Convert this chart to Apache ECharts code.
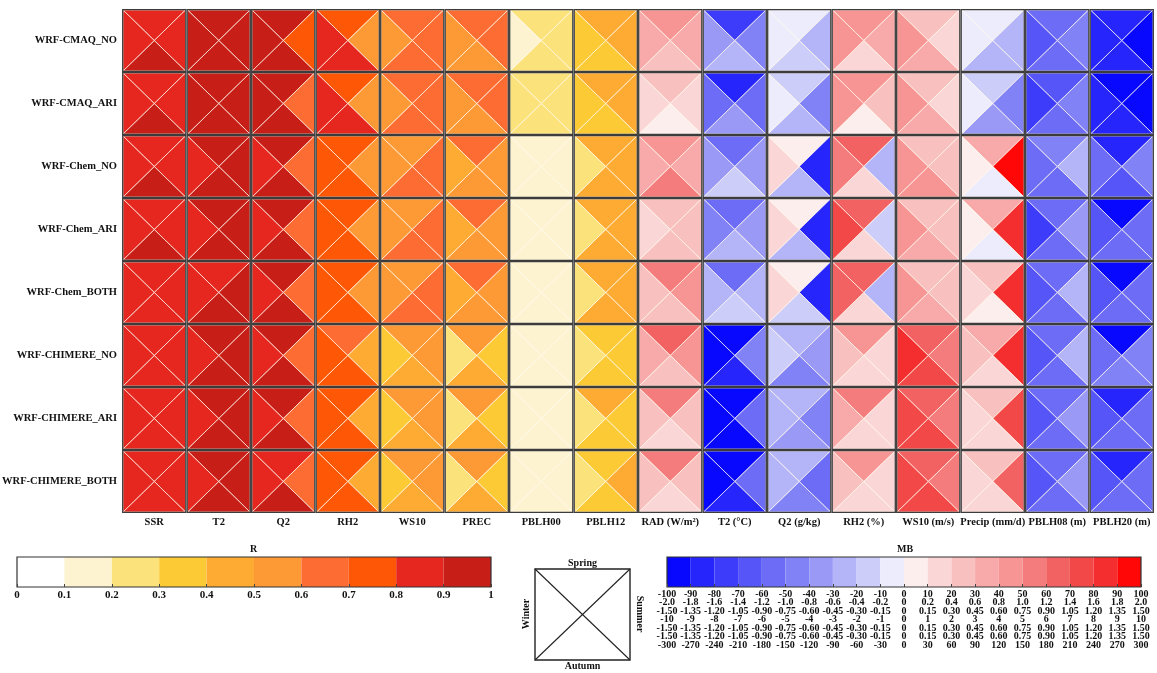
<!DOCTYPE html>
<html><head><meta charset="utf-8">
<script src="https://cdn.jsdelivr.net/npm/echarts@6/dist/echarts.min.js"></script>
<style>html,body{margin:0;padding:0;background:#fff}#c{width:1157px;height:673px}</style>
</head><body><div id="c"></div>
<script>
// ---------- categories ----------
const rowNames = ['WRF-CMAQ_NO','WRF-CMAQ_ARI','WRF-Chem_NO','WRF-Chem_ARI','WRF-Chem_BOTH','WRF-CHIMERE_NO','WRF-CHIMERE_ARI','WRF-CHIMERE_BOTH'];
const colNames = ['SSR','T2','Q2','RH2','WS10','PREC','PBLH00','PBLH12','RAD (W/m²)','T2 (°C)','Q2 (g/kg)','RH2 (%)','WS10 (m/s)','Precip (mm/d)','PBLH08 (m)','PBLH20 (m)'];
const seasons = ['Spring','Summer','Autumn','Winter']; // top, right, bottom, left

// ---------- R values: each row = [Spring, Summer, Autumn, Winter] ----------
const rSSR = [[0.87,0.86,0.91,0.88],[0.86,0.85,0.91,0.87],[0.86,0.86,0.91,0.87],[0.86,0.85,0.91,0.87],[0.88,0.87,0.89,0.86],[0.87,0.86,0.88,0.86],[0.87,0.86,0.88,0.86],[0.87,0.86,0.88,0.86]];
const rT2 = [[0.94,0.95,0.95,0.93],[0.94,0.95,0.95,0.93],[0.93,0.94,0.95,0.88],[0.93,0.94,0.95,0.88],[0.89,0.94,0.95,0.88],[0.92,0.94,0.95,0.88],[0.92,0.94,0.95,0.88],[0.92,0.94,0.95,0.88]];
const rQ2 = [[0.93,0.74,0.94,0.92],[0.93,0.66,0.94,0.92],[0.92,0.64,0.94,0.88],[0.92,0.64,0.94,0.88],[0.92,0.65,0.94,0.87],[0.92,0.65,0.94,0.87],[0.92,0.65,0.94,0.87],[0.89,0.64,0.93,0.87]];
const rRH2 = [[0.76,0.57,0.84,0.83],[0.75,0.56,0.84,0.83],[0.74,0.55,0.76,0.73],[0.74,0.55,0.76,0.73],[0.74,0.55,0.76,0.73],[0.66,0.47,0.74,0.72],[0.71,0.46,0.74,0.72],[0.71,0.46,0.74,0.72]];
const rWS10 = [[0.65,0.63,0.64,0.56],[0.66,0.63,0.64,0.56],[0.57,0.62,0.63,0.55],[0.57,0.62,0.63,0.55],[0.57,0.63,0.64,0.54],[0.54,0.52,0.46,0.36],[0.54,0.52,0.46,0.36],[0.54,0.52,0.46,0.36]];
const rPREC = [[0.65,0.63,0.56,0.57],[0.65,0.63,0.56,0.57],[0.64,0.55,0.54,0.46],[0.64,0.54,0.53,0.45],[0.63,0.54,0.53,0.45],[0.55,0.36,0.44,0.27],[0.55,0.36,0.44,0.26],[0.56,0.35,0.44,0.26]];
const rPBLH00 = [[0.24,0.22,0.23,0.16],[0.23,0.22,0.22,0.21],[0.15,0.14,0.14,0.13],[0.14,0.14,0.13,0.13],[0.14,0.13,0.14,0.13],[0.13,0.13,0.14,0.12],[0.13,0.13,0.14,0.12],[0.13,0.14,0.14,0.12]];
const rPBLH12 = [[0.44,0.43,0.38,0.36],[0.44,0.43,0.37,0.36],[0.43,0.45,0.44,0.27],[0.43,0.45,0.44,0.27],[0.43,0.44,0.43,0.26],[0.36,0.35,0.37,0.27],[0.41,0.38,0.37,0.26],[0.38,0.41,0.37,0.26]];

// ---------- MB values (in each variable's unit): [Spring, Summer, Autumn, Winter] ----------
const mbRAD = [[45,36,24,34],[24,14,4,16],[46,35,53,36],[26,25,24,15],[56,42,28,26],[64,44,25,34],[55,26,16,24],[54,25,15,26]];
const mbT2 = [[-1.52,-0.88,-0.48,-0.68],[-1.72,-1.08,-0.66,-1.12],[-1.08,-0.66,-0.28,-0.72],[-1.12,-0.68,-0.46,-0.86],[-1.06,-0.52,-0.32,-0.48],[-1.96,-0.88,-1.78,-1.94],[-1.95,-1.08,-1.92,-1.96],[-1.94,-1.12,-1.78,-1.95]];
const mbQ2 = [[-0.07,-0.37,-0.22,-0.08],[-0.24,-0.66,-0.38,-0.06],[0.06,-1.28,-0.38,0.22],[0.07,-1.27,-0.37,0.23],[0.06,-1.26,-0.24,0.21],[-0.38,-0.52,-0.62,-0.23],[-0.36,-0.68,-0.53,-0.37],[-0.37,-0.82,-0.66,-0.38]];
const mbRH2 = [[4.6,3.4,1.6,4.5],[4.4,2.6,0.5,4.6],[6.4,-2.6,1.5,5.6],[6.2,-1.4,1.6,7.4],[6.5,-2.4,1.6,6.6],[4.6,1.6,1.8,2.6],[5.2,1.6,1.7,3.4],[4.8,1.6,1.5,2.8]];
const mbWS10 = [[0.38,0.22,0.52,0.67],[0.37,0.23,0.53,0.66],[0.38,0.37,0.66,0.68],[0.38,0.36,0.54,0.67],[0.37,0.38,0.52,0.66],[0.98,0.84,1.12,1.28],[1.0,0.83,1.12,1.13],[0.99,0.84,1.1,1.14]];
const mbPrecip = [[-0.14,-0.37,-0.34,-0.06],[-0.3,-0.68,-0.52,-0.06],[0.52,1.45,-0.08,0.07],[0.53,1.3,-0.07,0.06],[0.4,1.28,0.07,0.22],[0.52,1.27,0.23,0.38],[0.37,1.12,0.22,0.22],[0.32,0.97,0.2,0.22]];
const mbPBLH08 = [[-165,-135,-165,-200],[-195,-135,-165,-220],[-140,-75,-165,-180],[-165,-105,-160,-215],[-165,-75,-160,-195],[-165,-80,-160,-190],[-165,-105,-160,-195],[-165,-100,-160,-195]];
const mbPBLH20 = [[-255,-290,-255,-255],[-290,-292,-255,-255],[-250,-135,-190,-160],[-288,-170,-175,-195],[-285,-160,-160,-195],[-275,-150,-150,-180],[-260,-160,-160,-190],[-255,-160,-160,-190]];

// full-scale of each MB variable (the value mapped to ±100 on the MB colour bar)
const mbScale = [100, 2, 1.5, 10, 1.5, 1.5, 300, 300];

// ---------- colour-bar tick labels ----------
const rTicks = [0,0.1,0.2,0.3,0.4,0.5,0.6,0.7,0.8,0.9,1];
const mbBinEdges = [-100,-90,-80,-70,-60,-50,-40,-30,-20,-10,0,10,20,30,40,50,60,70,80,90,100];
const mbLabelMax = [100, 2.0, 1.5, 10, 1.5, 1.5, 300];
const mbLabelDec = [0, 1, 2, 0, 2, 2, 0];

// ---------- styles ----------
const rColors = ['#ffffff','#fdf3d0','#fbe27a','#fcca35','#fdab33','#fd9a35','#fc6c33','#fe5806','#e5271f','#c81e18'];
const mbColors = ['#0808ff','#2626fc','#3c3cfa','#5656f8','#6c6cf6','#8282f7','#9a9af6','#b4b4f8','#cdcdfa','#ececfc',
                  '#fdeeee','#fbd6d6','#f9c0c0','#f8a9a9','#f79595','#f57c7c','#f36262','#f34848','#f42e2e','#ff0707'];
const FONT = 'Liberation Serif';

// ---------- build series data ----------
const rVars = [rSSR,rT2,rQ2,rRH2,rWS10,rPREC,rPBLH00,rPBLH12];
const mbVars = [mbRAD,mbT2,mbQ2,mbRH2,mbWS10,mbPrecip,mbPBLH08,mbPBLH20];
const rData = [], mbData = [], cellData = [];
rVars.forEach((arr, v) => arr.forEach((vals, r) => vals.forEach((val, s) => rData.push([v, r, s, val, val]))));
mbVars.forEach((arr, k) => arr.forEach((vals, r) => vals.forEach((val, s) => mbData.push([k + 8, r, s, val, val / mbScale[k] * 100]))));
for (let v = 0; v < colNames.length; v++) for (let r = 0; r < rowNames.length; r++) cellData.push([v, r]);

const rBins = rTicks.slice(0, -1).map((t, i) => [t, rTicks[i + 1]]);
const mbBins = mbBinEdges.slice(0, -1).map((t, i) => [t, mbBinEdges[i + 1]]);

const rPieces = rBins.map((b, i) => ({gte: b[0], lt: i === rBins.length - 1 ? 1.0001 : b[1], color: rColors[i]}));
const mbPieces = mbBins.map((b, i) => ({gte: b[0], lt: i === mbBins.length - 1 ? 100.0001 : b[1], color: mbColors[i]}));

function renderTri(params, api) {
  const c = api.coord([api.value(0), api.value(1)]);
  const sz = api.size([1, 1]);
  const hw = sz[0] / 2 - 1, hh = sz[1] / 2 - 1;
  const x0 = c[0] - hw, x1 = c[0] + hw, y0 = c[1] - hh, y1 = c[1] + hh;
  const s = api.value(2);
  const pts = [
    [[x0, y0], [x1, y0], c],
    [[x1, y0], [x1, y1], c],
    [[x1, y1], [x0, y1], c],
    [[x0, y1], [x0, y0], c]
  ][s];
  return {type: 'polygon', shape: {points: pts},
    style: {fill: api.visual('color'), stroke: 'rgba(255,250,235,0.8)', lineWidth: 0.9}};
}
function renderCell(params, api) {
  const c = api.coord([api.value(0), api.value(1)]);
  const sz = api.size([1, 1]);
  return {type: 'rect', shape: {x: c[0] - sz[0] / 2 + 0.7, y: c[1] - sz[1] / 2 + 0.7, width: sz[0] - 1.4, height: sz[1] - 1.4},
    style: {fill: 'none', stroke: '#3c3c3c', lineWidth: 1.3}};
}
function makeBarRender(colors) {
  return function (params, api) {
    const p0 = api.coord([api.value(0), 1]);
    const p1 = api.coord([api.value(1), 0]);
    const children = [{type: 'rect', shape: {x: p0[0], y: p0[1], width: p1[0] - p0[0], height: p1[1] - p0[1]},
      style: {fill: colors[params.dataIndex]}}];
    if (params.dataIndex === params.dataInsideLength - 1) {
      const cs = params.coordSys;
      children.push({type: 'rect', z2: 10, shape: {x: cs.x, y: cs.y, width: cs.width, height: cs.height},
        style: {fill: 'none', stroke: '#333', lineWidth: 1.2}});
    }
    return {type: 'group', children};
  };
}

const labelStyle = {fontFamily: FONT, fontWeight: 'bold', color: '#111'};

// MB label axes (7 rows)
const mbAxes = mbLabelMax.map((m, i) => ({
  type: 'value', gridIndex: 2, min: -m, max: m, interval: m / 10, position: 'bottom',
  offset: i * 8.5, z: 5,
  axisLine: {show: false}, splitLine: {show: false},
  axisTick: i === 0 ? {show: true, inside: true, length: 3, lineStyle: {color: '#444'}} : {show: false},
  axisLabel: Object.assign({}, labelStyle, {fontSize: 10, margin: 2, showMinLabel: true, showMaxLabel: true,
    formatter: v => (Math.abs(v) < 1e-9 ? '0' : v.toFixed(mbLabelDec[i]))})
}));

const gridBase = {outerBoundsMode: 'none', containLabel: false};
const option = {
  animation: false,
  grid: [
    Object.assign({left: 122, top: 9, width: 1032, height: 504}, gridBase),
    Object.assign({left: 17, top: 557, width: 474, height: 30}, gridBase),
    Object.assign({left: 667, top: 557, width: 474, height: 30}, gridBase)
  ],
  xAxis: [
    {type: 'category', gridIndex: 0, data: colNames, position: 'bottom',
      axisLine: {show: false}, axisTick: {show: false}, splitLine: {show: false},
      axisLabel: Object.assign({}, labelStyle, {fontSize: 10.5, margin: 4, interval: 0})},
    {type: 'value', gridIndex: 1, min: 0, max: 1, interval: 0.1, z: 5,
      axisLine: {show: false}, splitLine: {show: false},
      axisTick: {show: true, inside: true, length: 3, lineStyle: {color: '#444'}},
      axisLabel: Object.assign({}, labelStyle, {fontSize: 11, margin: 3})}
  ].concat(mbAxes),
  yAxis: [
    {type: 'category', gridIndex: 0, data: rowNames, inverse: true,
      axisLine: {show: false}, axisTick: {show: false}, splitLine: {show: false},
      axisLabel: Object.assign({}, labelStyle, {fontSize: 10.5, margin: 5})},
    {type: 'value', gridIndex: 1, min: 0, max: 1, show: false},
    {type: 'value', gridIndex: 2, min: 0, max: 1, show: false}
  ],
  visualMap: [
    {type: 'piecewise', show: false, seriesIndex: 0, dimension: 4, pieces: rPieces},
    {type: 'piecewise', show: false, seriesIndex: 1, dimension: 4, pieces: mbPieces}
  ],
  series: [
    {type: 'custom', name: 'R', xAxisIndex: 0, yAxisIndex: 0, data: rData, renderItem: renderTri, encode: {x: 0, y: 1}},
    {type: 'custom', name: 'MB', xAxisIndex: 0, yAxisIndex: 0, data: mbData, renderItem: renderTri, encode: {x: 0, y: 1}},
    {type: 'custom', name: 'cells', xAxisIndex: 0, yAxisIndex: 0, data: cellData, renderItem: renderCell, encode: {x: 0, y: 1}, z: 3, silent: true},
    {type: 'custom', name: 'R scale', xAxisIndex: 1, yAxisIndex: 1, data: rBins, renderItem: makeBarRender(rColors), encode: {x: [0, 1]}},
    {type: 'custom', name: 'MB scale', xAxisIndex: 2, yAxisIndex: 2, data: mbBins, renderItem: makeBarRender(mbColors), encode: {x: [0, 1]}}
  ],
  graphic: [
    {type: 'text', left: 250, top: 544, style: {text: 'R', font: 'bold 10px "Liberation Serif"', fill: '#111'}},
    {type: 'text', left: 897, top: 544, style: {text: 'MB', font: 'bold 10px "Liberation Serif"', fill: '#111'}},
    {type: 'group', left: 521, top: 558, children: [
      {type: 'rect', shape: {x: 16, y: 13, width: 95, height: 91}, style: {fill: '#fff', stroke: '#222', lineWidth: 1.4}},
      {type: 'line', shape: {x1: 16, y1: 13, x2: 111, y2: 104}, style: {stroke: '#222', lineWidth: 1.1}},
      {type: 'line', shape: {x1: 111, y1: 13, x2: 16, y2: 104}, style: {stroke: '#222', lineWidth: 1.1}},
      {type: 'text', x: 63.5, y: 7, style: {text: seasons[0], font: 'bold 10px "Liberation Serif"', fill: '#111', align: 'center', verticalAlign: 'middle'}},
      {type: 'text', x: 63.5, y: 110, style: {text: seasons[2], font: 'bold 10px "Liberation Serif"', fill: '#111', align: 'center', verticalAlign: 'middle'}},
      {type: 'text', x: 121, y: 58, rotation: -Math.PI / 2, style: {text: seasons[1], font: 'bold 10px "Liberation Serif"', fill: '#111', align: 'center', verticalAlign: 'middle'}},
      {type: 'text', x: 7, y: 58, rotation: Math.PI / 2, style: {text: seasons[3], font: 'bold 10px "Liberation Serif"', fill: '#111', align: 'center', verticalAlign: 'middle'}}
    ]}
  ]
};
const chart = echarts.init(document.getElementById('c'), null, {renderer: 'canvas'});
chart.setOption(option);
</script></body></html>
